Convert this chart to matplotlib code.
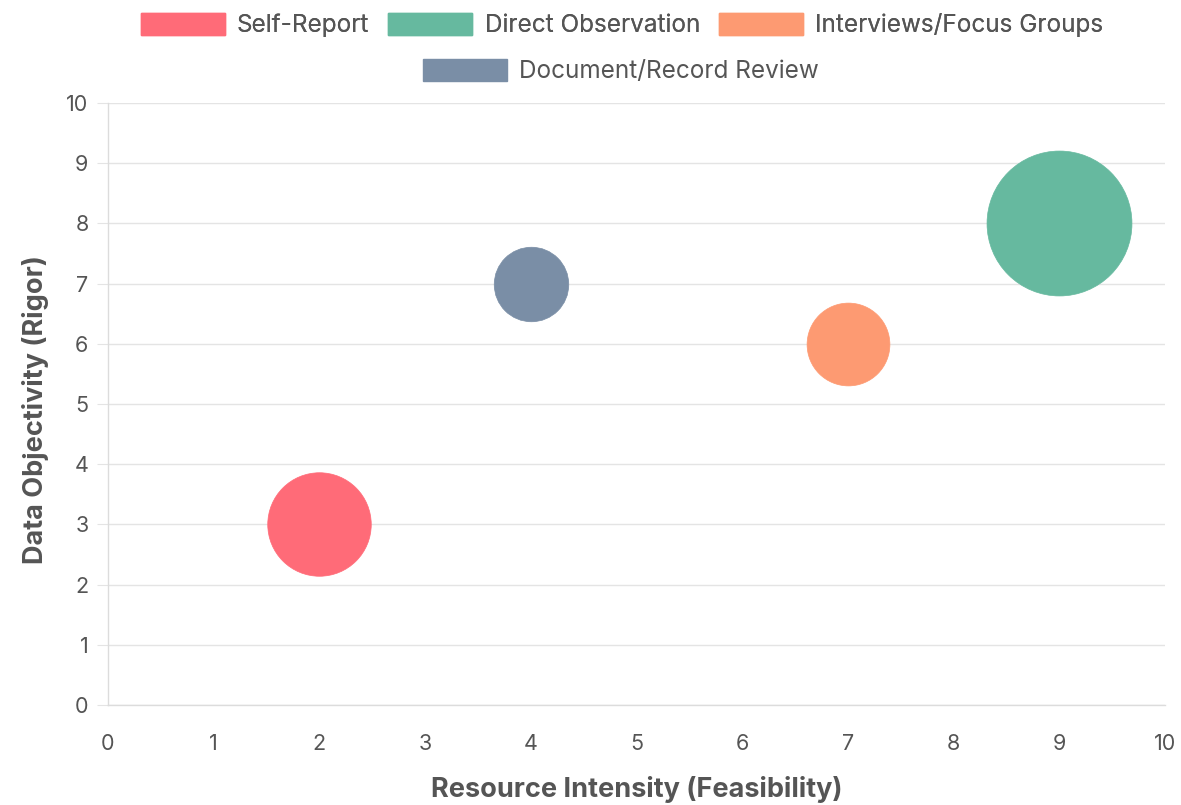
import matplotlib.pyplot as plt
from matplotlib.patches import Patch

plt.rcParams['font.family'] = ['Inter', 'DejaVu Sans']

# data
methods = ['Self-Report', 'Direct Observation', 'Interviews/Focus Groups', 'Document/Record Review']
feasibility = [2, 9, 7, 4]
rigor = [3, 8, 6, 7]
bubble_r = [25, 35, 20, 18]
colors = ['#ff6b78', '#66b99f', '#fd9a72', '#7a8ea6']

PX_PER_R = 2.07  # bubble radius units -> pixels
DPI = 100
W, H = 1181, 805

fig = plt.figure(figsize=(W / DPI, H / DPI), dpi=DPI)
ax = fig.add_axes([108 / W, 1 - 705 / H, 1057 / W, 602 / H])

for x, y, r, c in zip(feasibility, rigor, bubble_r, colors):
    d_pt = 2 * r * PX_PER_R * 72 / DPI
    ax.scatter([x], [y], s=d_pt ** 2, color=c, edgecolors=c, linewidths=0.5,
               zorder=3, clip_on=False)

ax.set_xlim(0, 10)
ax.set_ylim(0, 10)
ax.set_xticks(range(0, 11))
ax.set_yticks(range(0, 11))

ax.grid(axis='y', color='#e4e4e4', linewidth=1)
ax.grid(axis='x', visible=False)
for side in ['top', 'right']:
    ax.spines[side].set_visible(False)
for side in ['left', 'bottom']:
    ax.spines[side].set_color('#dcdcdc')
    ax.spines[side].set_linewidth(1)
ax.tick_params(axis='y', length=8, color='#e4e4e4', labelsize=15.5, labelcolor='#555555', pad=6)
ax.tick_params(axis='x', length=0, labelsize=15.5, labelcolor='#555555', pad=21)

ax.set_xlabel('Resource Intensity (Feasibility)', fontsize=19.5, fontweight='bold',
              color='#555555', va='center')
ax.set_ylabel('Data Objectivity (Rigor)', fontsize=19.5, fontweight='bold',
              color='#555555', va='center')
ax.xaxis.set_label_coords(0.5, -(789 - 705) / 602)
ax.yaxis.set_label_coords(-(108 - 36) / 1057, 0.49)

handles = [Patch(facecolor=c, edgecolor=c, label=m) for m, c in zip(methods, colors)]
leg_kw = dict(frameon=False, fontsize=17.5, handlelength=3.46, handleheight=1.03,
              handletextpad=0.5, columnspacing=0.78, labelcolor='#555555',
              borderpad=0, borderaxespad=0)
leg1 = fig.legend(handles=handles[:3], loc='center', bbox_to_anchor=(622 / W, 1 - 25 / H),
                  ncol=3, **leg_kw)
leg2 = fig.legend(handles=handles[3:], loc='center', bbox_to_anchor=(621 / W, 1 - 71 / H),
                  ncol=1, **leg_kw)
fig.add_artist(leg1)

fig.savefig('out.png', dpi=DPI)
